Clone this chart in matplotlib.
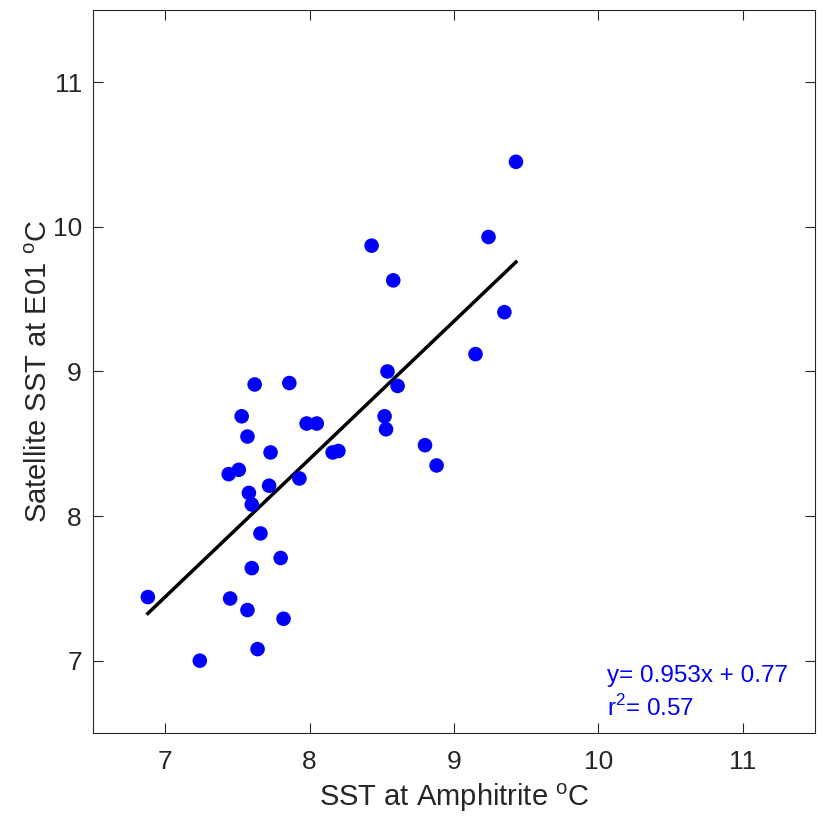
import matplotlib
matplotlib.use("Agg")
import matplotlib.pyplot as plt
import numpy as np

plt.rcParams["font.family"] = ["Liberation Sans", "DejaVu Sans"]
plt.rcParams["mathtext.fontset"] = "custom"
plt.rcParams["mathtext.rm"] = "Liberation Sans"

# SST at Amphitrite vs satellite SST at E01
sst_amphitrite = [6.88, 7.24, 7.45, 7.57, 7.64, 7.60, 7.80, 7.82, 7.66, 7.60,
                  7.58, 7.72, 7.44, 7.51, 7.73, 7.93, 7.57, 7.53, 7.62, 7.86,
                  7.98, 8.05, 8.16, 8.20, 8.43, 8.58, 8.54, 8.61, 8.52, 8.53,
                  8.80, 8.88, 9.15, 9.24, 9.35, 9.43]
sst_satellite = [7.44, 7.00, 7.43, 7.35, 7.08, 7.64, 7.71, 7.29, 7.88, 8.08,
                 8.16, 8.21, 8.29, 8.32, 8.44, 8.26, 8.55, 8.69, 8.91, 8.92,
                 8.64, 8.64, 8.44, 8.45, 9.87, 9.63, 9.00, 8.90, 8.69, 8.60,
                 8.49, 8.35, 9.12, 9.93, 9.41, 10.45]
slope = 0.953
intercept = 0.77
r2 = 0.57
ticks = [7, 8, 9, 10, 11]

x = np.array(sst_amphitrite)
y = np.array(sst_satellite)

fig = plt.figure(figsize=(8.23, 8.22), dpi=100)
ax = fig.add_axes([0.113, 0.1083, 0.877, 0.8796])

ax.scatter(x, y, s=110, color="#0000ff", edgecolors="none", zorder=3)
xl = np.array([x.min(), x.max()])
ax.plot(xl, slope * xl + intercept, color="black", lw=2.5, zorder=2)

ax.text(10.06, 6.85, f"y= {slope}x + {intercept}", color="#0000ff", fontsize=17.5)
ax.text(10.06, 6.62, f"r$^2$= {r2}", color="#0000ff", fontsize=17.5)

ax.set_xlim(6.5, 11.5)
ax.set_ylim(6.5, 11.5)
ax.set_xticks(ticks)
ax.set_yticks(ticks)
ax.tick_params(direction="in", top=True, right=True, length=7, width=0.8,
               labelsize=19, colors="#262626")
ax.tick_params(axis="x", pad=12)
ax.tick_params(axis="y", pad=8)
for sp in ax.spines.values():
    sp.set_color("#262626")
    sp.set_linewidth(0.8)

ax.set_xlabel(r"SST at Amphitrite $^{\rm o}$C", fontsize=21, color="#262626", labelpad=6)
ax.set_ylabel(r"Satellite SST at E01 $^{\rm o}$C", fontsize=21, color="#262626", labelpad=0)

fig.savefig("out.png", dpi=100)
